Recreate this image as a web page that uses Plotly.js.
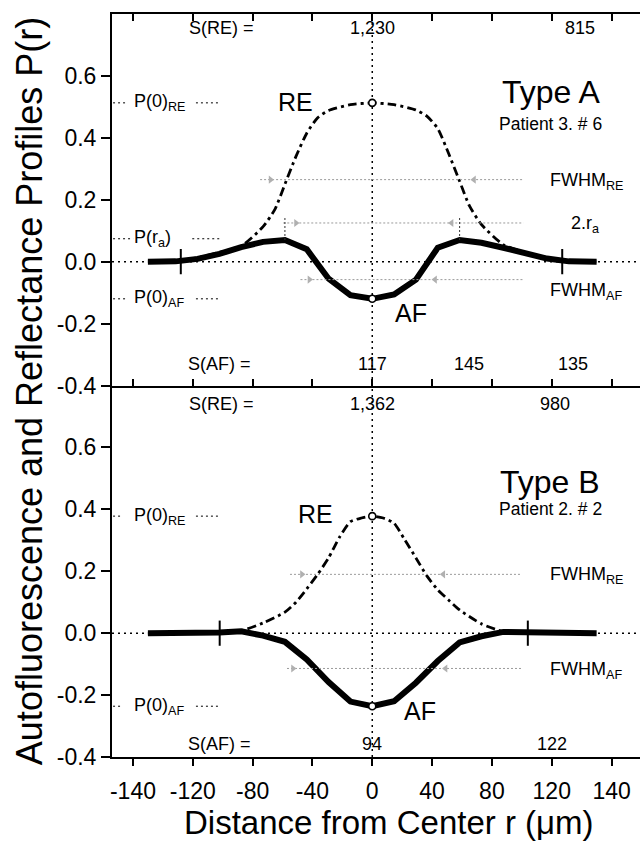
<!DOCTYPE html>
<html><head><meta charset="utf-8">
<script src="https://cdn.plot.ly/plotly-3.0.1.min.js"></script>
<style>html,body{margin:0;padding:0;background:#fff}#chart{width:640px;height:841px}</style>
</head><body><div id="chart"></div>
<script>
// ---- axis ticks ----
const xTickVals = [-160, -120, -80, -40, 0, 40, 80, 120, 160];
const xTickText = ['-140', '-120', '-80', '-40', '0', '40', '80', '120', '140'];
const yTickVals = [-0.4, -0.2, 0, 0.2, 0.4, 0.6];
const yTickText = ['-0.4', '-0.2', '0.0', '0.2', '0.4', '0.6'];

// ---- Type A (top panel) ----
const afTopX = [-150, -131.4, -116.8, -102.2, -87.6, -73, -58.4, -43.8, -29.2, -14.6, 0, 14.6, 29.2, 43.8, 58.4, 73, 87.6, 102.2, 116.8, 131.4, 150];
const afTopY = [0, 0.001, 0.009, 0.025, 0.047, 0.064, 0.07, 0.04, -0.055, -0.108, -0.12, -0.106, -0.058, 0.045, 0.07, 0.061, 0.045, 0.026, 0.01, 0.001, 0];
const reTopX = [-150, -131.4, -116.8, -102.2, -87.6, -73, -65, -58.4, -51, -43.8, -36.5, -29.2, -14.6, 0, 14.6, 29.2, 36.5, 43.8, 51, 58.4, 65, 73, 87.6, 102.2, 116.8, 131.4, 150];
const reTopY = [0, 0.002, 0.013, 0.03, 0.05, 0.113, 0.17, 0.25, 0.34, 0.415, 0.465, 0.488, 0.507, 0.513, 0.507, 0.49, 0.47, 0.43, 0.35, 0.26, 0.18, 0.12, 0.055, 0.03, 0.013, 0.002, 0];
const crossTopX = [-128, 127];
const raX = [-58.4, 58.4];
const raTop = 0.145;
const pRaLevel = 0.074;
const fwhmTopLevels = [0.265, 0.125, -0.058];
const fwhmTopStart = [-75, -59.5, -48];
const fwhmTopEnd = [101, 101, 101];
const fwhmTopArrowL = [-68, -51, -42];
const fwhmTopArrowR = [68, 53, 42];
const sumTopRE = ['S(RE) =', '1,230', '815'];
const sumTopAF = ['S(AF) =', '117', '145', '135'];

// ---- Type B (bottom panel) ----
const afBotX = [-150, -131.4, -116.8, -102.2, -87.6, -73, -58.4, -43.8, -29.2, -14.6, 0, 14.6, 29.2, 43.8, 58.4, 73, 87.6, 102.2, 116.8, 131.4, 150];
const afBotY = [0, 0, 0, 0.002, 0.006, -0.008, -0.028, -0.085, -0.158, -0.221, -0.236, -0.22, -0.16, -0.09, -0.03, -0.01, 0.004, 0.002, 0, 0, 0];
const reBotX = [-150, -116.8, -102.2, -87.6, -73, -58.4, -51, -43.8, -36.5, -29.2, -21.9, -14.6, -7.3, 0, 7.3, 14.6, 21.9, 29.2, 36.5, 43.8, 51, 58.4, 73, 87.6, 102.2, 116.8, 150];
const reBotY = [0, 0, 0.002, 0.008, 0.033, 0.068, 0.1, 0.143, 0.19, 0.243, 0.31, 0.36, 0.372, 0.378, 0.372, 0.355, 0.3, 0.243, 0.185, 0.14, 0.107, 0.075, 0.03, 0.005, 0.002, 0, 0];
const crossBotX = [-102, 104];
const fwhmBotLevels = [0.19, -0.114];
const fwhmBotStart = [-55, -57];
const fwhmBotEnd = [100, 100];
const fwhmBotArrowL = [-47, -53];
const fwhmBotArrowR = [47.5, 49];
const sumBotRE = ['S(RE) =', '1,362', '980'];
const sumBotAF = ['S(AF) =', '94', '122'];

const FONT = 'Liberation Sans, Arial, Helvetica, sans-serif';
const at0 = (xs, ys) => ys[xs.indexOf(0)];

const traces = [];
const shapes = [];
const ann = [];

function panel(ax, ay, afX, afY, reX, reY, crossX) {
  traces.push({x: reX, y: reY, xaxis: ax, yaxis: ay, mode: 'lines',
    line: {color: '#000', width: 2.8, dash: '9px,4px,3px,4px', shape: 'spline', smoothing: 0.6}});
  traces.push({x: afX, y: afY, xaxis: ax, yaxis: ay, mode: 'lines',
    line: {color: '#000', width: 6}});
  traces.push({x: crossX, y: crossX.map(() => 0), xaxis: ax, yaxis: ay, mode: 'markers',
    marker: {symbol: 'line-ns', size: 18, line: {color: '#000', width: 2}}});
  traces.push({x: [0, 0], y: [at0(reX, reY), at0(afX, afY)], xaxis: ax, yaxis: ay, mode: 'markers',
    marker: {symbol: 'circle', size: 7, color: '#fff', line: {color: '#000', width: 1.6}}});
}

function fwhm(ax, ay, levels, starts, ends, arrL, arrR) {
  levels.forEach((lv, i) => {
    traces.push({x: [starts[i], ends[i]], y: [lv, lv], xaxis: ax, yaxis: ay, mode: 'lines',
      line: {color: '#9a9a9a', width: 1, dash: '2px,2px'}});
    traces.push({x: [arrL[i]], y: [lv], xaxis: ax, yaxis: ay, mode: 'markers',
      marker: {symbol: 'triangle-right', size: 7, color: '#b0b0b0'}});
    traces.push({x: [arrR[i]], y: [lv], xaxis: ax, yaxis: ay, mode: 'markers',
      marker: {symbol: 'triangle-left', size: 7, color: '#b0b0b0'}});
  });
}

panel('x2', 'y2', afTopX, afTopY, reTopX, reTopY, crossTopX);
panel('x', 'y', afBotX, afBotY, reBotX, reBotY, crossBotX);
fwhm('x2', 'y2', fwhmTopLevels, fwhmTopStart, fwhmTopEnd, fwhmTopArrowL, fwhmTopArrowR);
fwhm('x', 'y', fwhmBotLevels, fwhmBotStart, fwhmBotEnd, fwhmBotArrowL, fwhmBotArrowR);

raX.forEach(rx => {
  const idx = afTopX.indexOf(rx);
  traces.push({x: [rx, rx], y: [afTopY[idx], raTop], xaxis: 'x2', yaxis: 'y2', mode: 'lines',
    line: {color: '#333', width: 1, dash: '2px,2px'}});
});

const dotLine = {color: '#000', width: 1.5, dash: '2px,4px'};
shapes.push({type: 'line', xref: 'paper', yref: 'y2', x0: 0, x1: 1, y0: 0, y1: 0, line: dotLine, layer: 'below'});
shapes.push({type: 'line', xref: 'paper', yref: 'y', x0: 0, x1: 1, y0: 0, y1: 0, line: dotLine, layer: 'below'});
shapes.push({type: 'line', xref: 'x', yref: 'paper', x0: 0, x1: 0, y0: 0, y1: 1, line: dotLine, layer: 'below'});

function level(yref, val, text, leftTo, rightFrom) {
  const ld = {color: '#000', width: 1, dash: '2px,3px'};
  shapes.push({type: 'line', xref: 'paper', yref, x0: 0.002, x1: leftTo, y0: val, y1: val, line: ld});
  shapes.push({type: 'line', xref: 'paper', yref, x0: rightFrom, x1: 0.205, y0: val, y1: val, line: ld});
  ann.push({xref: 'paper', yref, x: 0.038, y: val, xanchor: 'left', yanchor: 'middle', text, showarrow: false,
    font: {family: FONT, size: 18, color: '#000'}});
}
level('y2', at0(reTopX, reTopY), 'P(0)<sub>RE</sub>', 0.028, 0.159);
level('y2', pRaLevel, 'P(r<sub>a</sub>)', 0.04, 0.152);
level('y2', at0(afTopX, afTopY), 'P(0)<sub>AF</sub>', 0.028, 0.159);
level('y', at0(reBotX, reBotY), 'P(0)<sub>RE</sub>', 0.02, 0.159);
level('y', at0(afBotX, afBotY), 'P(0)<sub>AF</sub>', 0.02, 0.159);

function txt(yref, x, y, text, size, extra) {
  ann.push(Object.assign({xref: yref === 'y2' ? 'x2' : 'x', yref, x, y, text, showarrow: false,
    xanchor: 'center', yanchor: 'middle', font: {family: FONT, size, color: '#000'}}, extra || {}));
}
[-101, 0, 139].forEach((x, i) => txt('y2', x, 0.755, sumTopRE[i], 18));
[-102, 0, 65, 134].forEach((x, i) => txt('y2', x, -0.332, sumTopAF[i], 18));
txt('y2', -51, 0.515, 'RE', 25);
txt('y2', 26, -0.165, 'AF', 25);
txt('y2', 120, 0.548, 'Type A', 32);
txt('y2', 119, 0.445, 'Patient 3. # 6', 17.5);
txt('y2', 143, 0.26, 'FWHM<sub>RE</sub>', 18);
txt('y2', 142, 0.12, '2.r<sub>a</sub>', 18);
txt('y2', 143, -0.095, 'FWHM<sub>AF</sub>', 18);
[-101, 0, 122].forEach((x, i) => txt('y', x, 0.74, sumBotRE[i], 18));
[-102, 0, 120].forEach((x, i) => txt('y', x, -0.358, sumBotAF[i], 18));
txt('y', -38, 0.385, 'RE', 25);
txt('y', 32, -0.25, 'AF', 25);
txt('y', 119, 0.487, 'Type B', 32);
txt('y', 119, 0.4, 'Patient 2. # 2', 17.5);
txt('y', 143, 0.185, 'FWHM<sub>RE</sub>', 18);
txt('y', 143, -0.12, 'FWHM<sub>AF</sub>', 18);

ann.push({xref: 'paper', yref: 'paper', x: -0.155, y: 0.4926, textangle: -90, showarrow: false,
  xanchor: 'center', yanchor: 'middle', text: 'Autofluorescence and Reflectance Profiles P(r)',
  font: {family: FONT, size: 36, color: '#000'}});
ann.push({xref: 'paper', yref: 'paper', x: 0.525, y: -0.088, showarrow: false,
  xanchor: 'center', yanchor: 'middle', text: 'Distance from Center r (\u03bcm)',
  font: {family: FONT, size: 33, color: '#000'}});

const xBase = {range: [-174, 179], tickvals: xTickVals, ticktext: xTickText, showgrid: false, zeroline: false,
  showline: true, linecolor: '#000', linewidth: 2, tickcolor: '#000', tickwidth: 2, ticklen: 7,
  tickfont: {family: FONT, size: 23, color: '#000'}, fixedrange: true};
const yBase = {range: [-0.4, 0.8], tickvals: yTickVals, ticktext: yTickText, showgrid: false, zeroline: false,
  showline: true, linecolor: '#000', linewidth: 2, tickcolor: '#000', tickwidth: 2, ticklen: 9, ticks: 'outside',
  tickfont: {family: FONT, size: 23, color: '#000'}, fixedrange: true};

const layout = {
  width: 640, height: 841,
  margin: {l: 112, r: 0, t: 14, b: 84},
  paper_bgcolor: '#fff', plot_bgcolor: '#fff',
  showlegend: false, hovermode: false,
  xaxis: Object.assign({}, xBase, {anchor: 'y', ticks: 'outside', ticklabelstandoff: 5}),
  xaxis2: Object.assign({}, xBase, {anchor: 'y2', ticks: 'inside', showticklabels: false, mirror: 'ticks', matches: 'x'}),
  yaxis: Object.assign({}, yBase, {domain: [0, 0.5], anchor: 'x'}),
  yaxis2: Object.assign({}, yBase, {domain: [0.5, 1], anchor: 'x2'}),
  shapes, annotations: ann
};

Plotly.newPlot('chart', traces, layout, {staticPlot: true, displayModeBar: false});
</script></body></html>
